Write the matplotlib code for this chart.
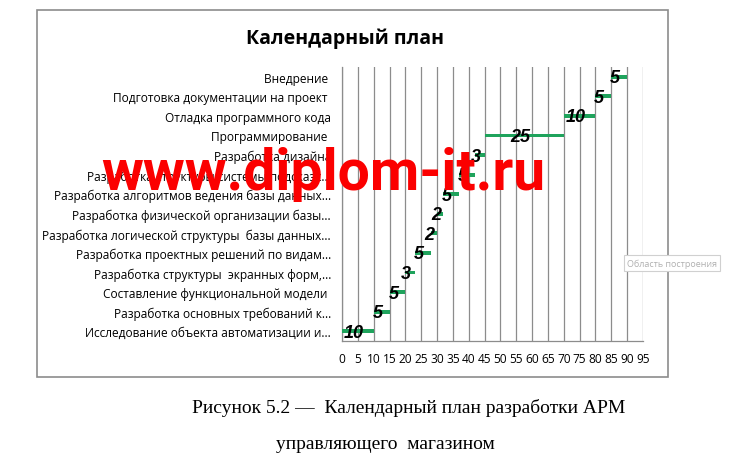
import matplotlib
matplotlib.use("Agg")
import matplotlib.pyplot as plt
from matplotlib.patches import Rectangle

tasks = [
    "Исследование объекта автоматизации и...",
    "Разработка основных требований к...",
    "Составление функциональной модели ",
    "Разработка структуры  экранных форм,...",
    "Разработка проектных решений по видам...",
    "Разработка логической структуры  базы данных...",
    "Разработка физической организации базы...",
    "Разработка алгоритмов ведения базы данных...",
    "Разработка структуры системы подсказк...",
    "Разработка дизайна",
    "Программирование ",
    "Отладка программного кода",
    "Подготовка документации на проект ",
    "Внедрение ",
]
starts = [0, 10, 15, 20, 23, 28, 30, 32, 37, 42, 45, 70, 80, 85]
durations = [10, 5, 5, 3, 5, 2, 2, 5, 5, 3, 25, 10, 5, 5]
xticks = list(range(0, 100, 5))

W, H = 733, 460
fig = plt.figure(figsize=(W / 100, H / 100), dpi=100)
fig.patch.set_facecolor("white")

# chart frame
fig.patches.append(Rectangle((37 / W, 1 - 378 / H), (668 - 37) / W, (378 - 11) / H,
                             transform=fig.transFigure, fill=False,
                             edgecolor="#8c8c8c", linewidth=1.2))

ax = fig.add_axes([342 / W, 1 - 342 / H, 301 / W, 274 / H])
ypos = list(range(len(tasks)))
ax.barh(ypos, durations, left=starts, height=0.2, color="#1fa35c", zorder=3)
for y, s, d in zip(ypos, starts, durations):
    ax.text(s + d / 2 - 1.3, y - 0.05, str(d), ha="center", va="center",
            fontsize=13, fontweight="bold", fontstyle="italic",
            family="Liberation Sans", color="black", zorder=4)

ax.set_xlim(0, 95)
ax.set_ylim(-0.5, len(tasks) - 0.5)
ax.set_xticks(xticks)
ax.set_xticklabels([str(v) for v in xticks], family="Open Sans", fontsize=8.6)
ax.set_yticks(ypos)
ax.set_yticklabels(tasks, family="Open Sans", fontsize=8.6)
ax.tick_params(axis="both", length=0)
ax.tick_params(axis="y", pad=8)
ax.tick_params(axis="x", pad=8)
ax.grid(axis="x", color="#8c8c8c", linewidth=0.9, zorder=0)
ax.set_axisbelow(True)
for side in ["top", "right"]:
    ax.spines[side].set_visible(False)
for side in ["left", "bottom"]:
    ax.spines[side].set_color("#8c8c8c")
    ax.spines[side].set_linewidth(0.9)

fig.text(345 / W, 1 - 39 / H, "Календарный план", ha="center", va="center",
         family="Open Sans", fontweight="bold", fontsize=14)

# watermark
fig.text(323 / W, 1 - 190 / H, "www.diplom-it.ru", ha="center", va="baseline",
         family=["Liberation Sans Narrow", "Roboto"], fontweight="bold",
         fontsize=41, color="#fb0000", zorder=10)

# tooltip
fig.text(672 / W, 1 - 264 / H, "Область построения", ha="center", va="center",
         family="Open Sans", fontsize=6.5, color="#b0b0b0",
         bbox=dict(boxstyle="square,pad=0.35", fc="white", ec="#d0d0d0", lw=0.8))

# caption
fig.text(409 / W, 1 - 408 / H, "Рисунок 5.2 —  Календарный план разработки АРМ",
         ha="center", va="center", family="Liberation Serif", fontsize=14)
fig.text(385 / W, 1 - 445 / H, "управляющего  магазином",
         ha="center", va="center", family="Liberation Serif", fontsize=14)

fig.savefig("out.png", dpi=100)
